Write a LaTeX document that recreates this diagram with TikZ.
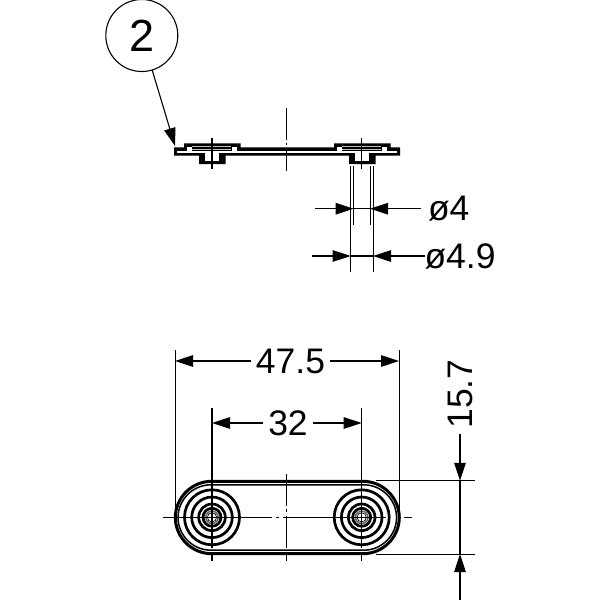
\documentclass[tikz,border=0pt]{standalone}
\usepackage{fontspec}
\setmainfont{Liberation Sans}
\usetikzlibrary{arrows.meta}
\tikzset{
	dimline/.style={line width=1.1pt},
	extline/.style={line width=1pt},
	ringline/.style={line width=2.7pt},
	dimtext/.style={font=\fontsize{35.5}{35.5}\selectfont, inner sep=0pt, outer sep=5pt}
}
\begin{document}
\begin{tikzpicture}[x=1pt, y=-1pt, line join=miter, >={Triangle[length=18pt, width=11.5pt]}]
	\useasboundingbox (0,0) rectangle (600,600);
	% Balloon
	\node[draw, circle, line width=1.1pt, minimum size=72pt, inner sep=0pt, outer sep=0pt, font=\fontsize{45}{45}\selectfont] (ball) at (141.8,35.5) {2};
	\coordinate (tip) at (175,146);
	\draw[dimline, ->] (ball) -- (tip);
	% Side view
	\fill (174,147.3) -- (184,147.3) -- (184,143.3) -- (240.5,143.3) -- (240.5,147.3) -- (334,147.3) -- (334,143.3) -- (390.5,143.3) -- (390.5,147.3) -- (400,147.3) -- (400,155.5) -- (375.5,155.5) -- (375.5,164) -- (349,164) -- (349,155.5) -- (225.5,155.5) -- (225.5,164) -- (199,164) -- (199,155.5) -- (174,155.5) -- cycle;
	\fill[white] (177,151) rectangle (397,152.6);
	\foreach \dx in {0,150}{
		\fill[white] (186.5+\dx,146.5) rectangle (191.5+\dx,150.5);
		\fill[white] (232+\dx,146.5) rectangle (237+\dx,150.5);
		\fill[black!25] (192+\dx,145.8) rectangle (231+\dx,146.6);
		\fill[black!25] (192+\dx,149) rectangle (231+\dx,149.8);
		\fill[white] (205+\dx,151) rectangle (219+\dx,161);
	}
	% Centre lines, side view
	\draw[dimline] (212,138) -- (212,169) (361.7,138) -- (361.7,169);
	\draw[dimline] (286.7,108) -- (286.7,140) (286.7,143) -- (286.7,145) (286.7,148) -- (286.7,171);
	% Diameters
	\coordinate (a1) at (350.7,166);
	\coordinate (a2) at (350.7,272);
	\coordinate (b1) at (353.7,166);
	\coordinate (b2) at (353.7,225);
	\coordinate (c1) at (370,166);
	\coordinate (c2) at (370,225);
	\coordinate (d1) at (373,166);
	\coordinate (d2) at (373,272);
	\draw[extline] (a1)--(a2) (b1)--(b2) (c1)--(c2) (d1)--(d2);
	\node[dimtext, anchor=west, outer sep=0pt] (dfour) at (428,209) {ø4};
	\node[dimtext, anchor=west, outer sep=0pt] (dnine) at (424.5,256) {ø4.9};
	\draw[dimline, ->] (315,208.7) -- (353.7,208.7);
	\draw[dimline] (353.7,208.7) -- (370,208.7);
	\draw[dimline, ->] (421,208.7) -- (370,208.7);
	\draw[dimline, ->] (312,256) -- (350.7,256);
	\draw[dimline] (350.7,256) -- (373,256);
	\draw[dimline, ->] (dnine.west) -- (373,256);
	% Top view
	\draw[line width=3pt, rounded corners=36.5pt] (175.3,481.3) rectangle (399.3,553.7);
	\draw[line width=1.5pt, rounded corners=33pt] (178,484.8) rectangle (396.6,550.2);
	\foreach \cx in {212,361.7}{
		\foreach \r in {27.5,20.3,13.3,9}
			\draw[ringline] (\cx,517.3) circle (\r);
		\draw[line width=1.6pt, black!60] (\cx,517.3) circle (6.2);
		\draw[line width=0.7pt] (\cx,517.3) circle (4.6);
		\draw[dimline] (\cx,408) -- (\cx,548);
		\draw[dimline] (\cx,553) -- (\cx,561);
	}
	\draw[dimline] (286.7,474) -- (286.7,506) (286.7,509) -- (286.7,512) (286.7,516) -- (286.7,548) (286.7,553) -- (286.7,561);
	\draw[dimline] (163,517.3) -- (272,517.3) (276,517.3) -- (279,517.3) (283,517.3) -- (386,517.3) (404,517.3) -- (412,517.3);
	% Dimensions
	\coordinate (e1) at (175,350);
	\coordinate (e2) at (175,517.3);
	\coordinate (f1) at (399,350);
	\coordinate (f2) at (399,517.3);
	\coordinate (g1) at (376,480.8);
	\coordinate (g2) at (475,480.8);
	\coordinate (h1) at (376,554);
	\coordinate (h2) at (475,554);
	\draw[extline] (e1)--(e2) (f1)--(f2) (g1)--(g2) (h1)--(h2);
	\node[dimtext] (wide) at (290.5,361) {47.5};
	\node[dimtext] (pitch) at (288,423) {32};
	\node[dimtext, rotate=90] (high) at (460,394) {15.7};
	\draw[dimline, ->] (wide) -- (175,361);
	\draw[dimline, ->] (wide) -- (399,361);
	\draw[dimline, ->] (pitch) -- (212,423);
	\draw[dimline, ->] (pitch) -- (361.7,423);
	\draw[dimline, ->] (high) -- (460,480.8);
	\draw[dimline] (460,480.8) -- (460,554);
	\draw[dimline, ->] (460,600) -- (460,554);
\end{tikzpicture}
\end{document}
